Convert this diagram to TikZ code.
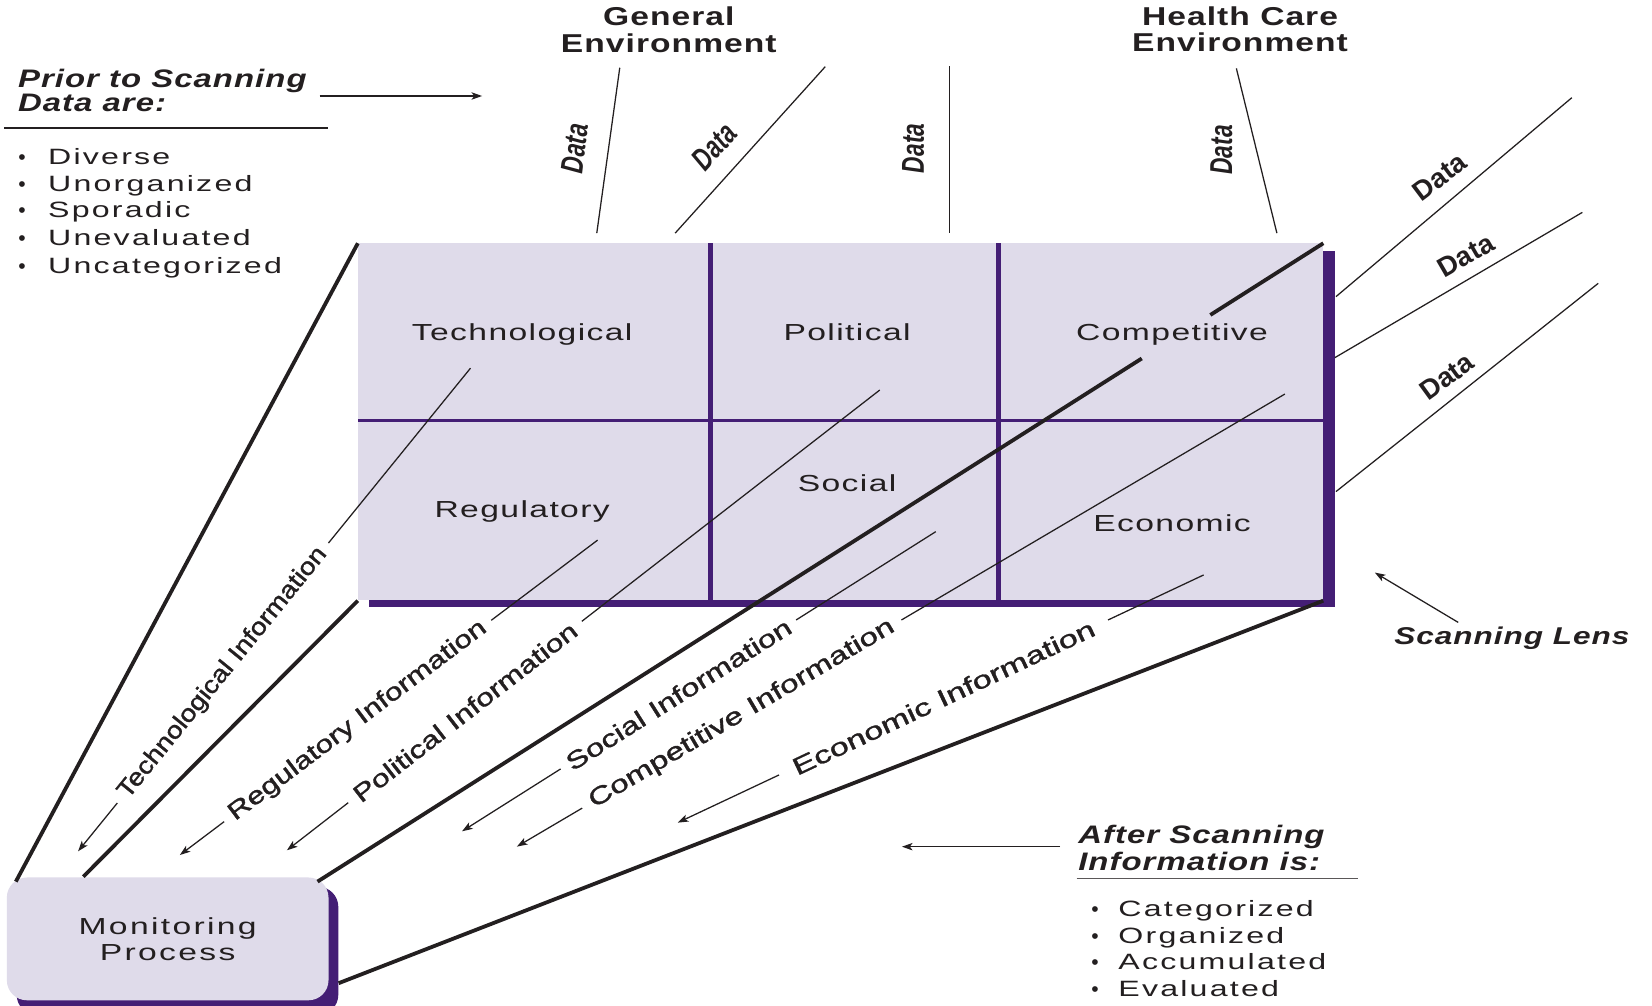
\documentclass[tikz,border=0pt]{standalone}
\usepackage{fontspec}
\usepackage{graphicx}
\setmainfont{Liberation Sans}
\newfontfamily\wideR[FakeStretch=1.45,LetterSpace=6]{Liberation Sans}
\newfontfamily\wideL[FakeStretch=1.45,LetterSpace=10]{Liberation Sans}
\newfontfamily\wideB[FakeStretch=1.3,LetterSpace=4]{Liberation Sans}
\newfontfamily\infoF[FakeBold=1.2]{Liberation Sans}
\newfontfamily\condF[FakeStretch=0.72]{Liberation Sans}
\usetikzlibrary{arrows.meta}
\definecolor{lav}{RGB}{223,219,234}
\definecolor{purp}{RGB}{68,30,117}
\definecolor{ink}{RGB}{35,31,32}
% #1 name, #2 start, #3 end, #4 gap start pos, #5 gap end pos, #6 label pos, #7 label width, #8 text
\newcommand\infoLine[8]{%
  \coordinate (#1S) at #2;
  \coordinate (#1E) at #3;
  \path (#1S) -- (#1E) coordinate[pos=#4] (#1a) coordinate[pos=#5] (#1b)
        node[infotxt, pos=#6] (#1L) {\resizebox{#7pt}{\height}{#8}};
  \draw[thin line] (#1S) -- (#1a);
  \draw[arr] (#1b) -- (#1E);
}
\begin{document}
\begin{tikzpicture}[x=1pt,y=-1pt,
  thin line/.style={draw=ink, line width=1.2pt},
  thick line/.style={draw=ink, line width=3.6pt},
  arr/.style={draw=ink, line width=1.2pt, -{Stealth[length=10pt,width=7pt,inset=2.5pt]}},
  celltxt/.style={font=\wideR\fontsize{22}{26}\selectfont, text=ink, anchor=base, inner sep=0pt},
  listtxt/.style={font=\wideL\fontsize{21}{25}\selectfont, text=ink, anchor=base west, inner sep=0pt},
  bul/.style={font=\fontsize{20}{20}\selectfont, text=ink, anchor=base, inner sep=0pt},
  headtxt/.style={font=\wideB\bfseries\fontsize{24.5}{28}\selectfont, text=ink, anchor=base, inner sep=0pt},
  headitxt/.style={font=\wideB\bfseries\itshape\fontsize{24}{28}\selectfont, text=ink, anchor=base west, inner sep=0pt},
  infotxt/.style={font=\infoF\fontsize{23}{26}\selectfont, text=ink, sloped, inner sep=0pt},
  datatop/.style={font=\condF\bfseries\itshape\fontsize{30}{30}\selectfont, text=ink, inner sep=0pt},
  dataright/.style={font=\bfseries\fontsize{26}{26}\selectfont, text=ink, inner sep=0pt},
]
\useasboundingbox[fill=white] (0,0) rectangle (1566,953);

% ---- scanning lens grid ----
\fill[purp] (350,237.6) rectangle (1265.5,575.5);
\node[fill=lav, inner sep=0pt, minimum width=914.8pt, minimum height=338.4pt, anchor=north west] (grid) at (339.2,230.6) {};
\draw[purp, line width=4pt] (673.5,230.6) -- (673.5,569) (946.5,230.6) -- (946.5,569);
\draw[purp, line width=2.8pt] (339.2,399) -- (1254,399);

\node[celltxt] (cTech) at (495,323) {Technological};
\node[celltxt] (cPol)  at (803,323) {Political};
\node[celltxt] (cComp) at (1111,323) {Competitive};
\node[celltxt] (cReg)  at (495,491) {Regulatory};
\node[celltxt] (cSoc)  at (803,466) {Social};
\node[celltxt] (cEcon) at (1111,504) {Economic};

% ---- monitoring process ----
\fill[purp, rounded corners=19pt] (15.8,840.6) rectangle (320.7,962);
\node[fill=lav, rounded corners=19pt, inner sep=0pt, minimum width=304.9pt, minimum height=116.4pt,
      anchor=north west, align=center, text=ink, font=\wideL\fontsize{22}{24.7}\selectfont]
      (mon) at (6.3,831.6) {Monitoring\\Process};

% ---- thick projection lines ----
\coordinate (mA) at (15,835.7);
\coordinate (mB) at (79,831);
\coordinate (mC) at (301,835.7);
\coordinate (mD) at (321,932);
\draw[thick line] (grid.north west) -- (mA);
\draw[thick line] (grid.south west) -- (mB);
\path (grid.north east) -- (mC) coordinate[pos=0.1123] (c1) coordinate[pos=0.1805] (c2);
\draw[thick line] (grid.north east) -- (c1);
\draw[thick line] (c2) -- (mC);
\draw[thick line] (grid.south east) -- (mD);

% ---- information lines ----
\infoLine{tec}{(446,349)}{(74,807)}{0.362}{0.9}{0.631}{300}{Technological Information}
\infoLine{reg}{(566.5,512)}{(170.5,810.5)}{0.2546}{0.894}{0.574}{300}{Regulatory Information}
\infoLine{pol}{(834,369.7)}{(272,806)}{0.5026}{0.8966}{0.6996}{262}{Political Information}
\infoLine{soc}{(887,504)}{(438,788)}{0.2947}{0.792}{0.543}{248}{Social Information}
\infoLine{com}{(1218,373.5)}{(490,802.5)}{0.4993}{0.915}{0.707}{332}{Competitive Information}
\infoLine{eco}{(1141,545)}{(642.5,779.8)}{0.1819}{0.8075}{0.4947}{314}{Economic Information}

% ---- data lines (top) ----
\coordinate (d1a) at (587.5,64.2);  \coordinate (d1b) at (565.7,221);
\coordinate (d2a) at (782.3,63.2);  \coordinate (d2b) at (640,221);
\coordinate (d3a) at (900,63);      \coordinate (d3b) at (900,221);
\coordinate (d4a) at (1172,64.8);   \coordinate (d4b) at (1210.4,221);
\draw[thin line] (d1a) -- (d1b);
\draw[thin line] (d2a) -- (d2b);
\draw[thin line] (d3a) -- (d3b);
\draw[thin line] (d4a) -- (d4b);
\node[datatop, rotate=83] (dl1) at (544.6,140.6) {Data};
\node[datatop, rotate=48] (dl2) at (677,139) {Data};
\node[datatop, rotate=90] (dl3) at (865.7,140.6) {Data};
\node[datatop, rotate=90] (dl4) at (1157.8,142) {Data};

% ---- data lines (right) ----
\coordinate (r1a) at (1266.4,281.2); \coordinate (r1b) at (1490,92.6);
\coordinate (r2a) at (1265.4,339);   \coordinate (r2b) at (1500,201.3);
\coordinate (r3a) at (1266.4,466);   \coordinate (r3b) at (1515,268.6);
\draw[thin line] (r1a) -- (r1b);
\draw[thin line] (r2a) -- (r2b);
\draw[thin line] (r3a) -- (r3b);
\node[dataright, rotate=37] (dr1) at (1364.7,167.5) {Data};
\node[dataright, rotate=30] (dr2) at (1389.6,242) {Data};
\node[dataright, rotate=36] (dr3) at (1371.3,357) {Data};

% ---- headings ----
\node[headtxt] (gen1) at (634,24.6) {General};
\node[headtxt] (gen2) at (634,50) {Environment};
\node[headtxt] (hc1) at (1175.5,24.6) {Health Care};
\node[headtxt] (hc2) at (1175.5,49) {Environment};

% ---- prior to scanning ----
\node[headitxt] (pri1) at (17,82.5) {Prior to Scanning};
\node[headitxt] (pri2) at (17,106) {Data are:};
\coordinate (pa1) at (303,91); \coordinate (pa2) at (457,91);
\draw[arr] (pa1) -- (pa2);
\draw[thin line] (3.8,121.3) -- (311,121.3);
\foreach \t/\y [count=\i] in {Diverse/155.5, Unorganized/182, Sporadic/206.6, Unevaluated/233, Uncategorized/258.8}{
  \node[bul] (pb\i) at (21,\y) {•};
  \node[listtxt] (pt\i) at (45.5,\y) {\t};
}

% ---- after scanning ----
\node[headitxt] (aft1) at (1022,799.4) {After Scanning};
\node[headitxt] (aft2) at (1022,825.3) {Information is:};
\draw[draw=ink!75, line width=1.2pt] (1020.5,833) -- (1287.5,833);
\coordinate (aa1) at (1005,802.6); \coordinate (aa2) at (855,802.6);
\draw[arr] (aa1) -- (aa2);
\foreach \t/\y [count=\i] in {Categorized/869, Organized/894.8, Accumulated/919.4, Evaluated/944.7}{
  \node[bul] (ab\i) at (1038,\y) {•};
  \node[listtxt] (at\i) at (1060,\y) {\t};
}

% ---- scanning lens label ----
\node[headitxt, font=\wideB\bfseries\itshape\fontsize{23}{26}\selectfont] (lens) at (1321.6,611.4) {Scanning Lens};
\coordinate (la1) at (1382.3,590); \coordinate (la2) at (1303.3,542.8);
\draw[arr] (la1) -- (la2);
\end{tikzpicture}
\end{document}
